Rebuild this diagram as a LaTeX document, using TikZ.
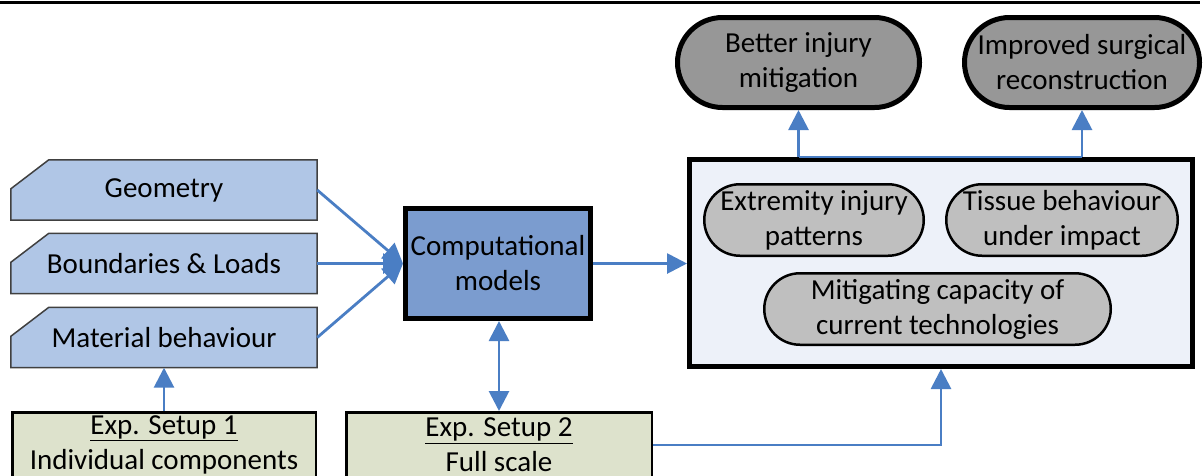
\documentclass[tikz,border=0pt]{standalone}
\usepackage{fontspec}
\setmainfont{Carlito}
\usetikzlibrary{arrows.meta,backgrounds,calc}
\definecolor{arrblue}{HTML}{4A7EC4}
\definecolor{leftfill}{HTML}{B0C6E6}
\definecolor{compfill}{HTML}{7B9CCF}
\definecolor{bigfill}{HTML}{EDF1F9}
\definecolor{innerfill}{HTML}{BFBFBF}
\definecolor{topfill}{HTML}{979797}
\definecolor{expfill}{HTML}{DDE2CC}
\definecolor{leftborder}{HTML}{404040}
\tikzset{
  inbox/.style={inner sep=0pt, minimum width=306pt, minimum height=60pt, align=center},
  chamf/.style={draw=leftborder, line width=1.5pt, fill=leftfill},
  compbox/.style={draw, line width=5pt, fill=compfill, minimum width=185pt, minimum height=110pt, align=center, inner sep=0pt},
  bigbox/.style={draw, line width=5pt, fill=bigfill, minimum width=503pt, minimum height=207pt, inner sep=0pt},
  topoval/.style={draw, line width=5pt, fill=topfill, minimum height=90pt, rounded corners=45pt, align=center, inner sep=0pt},
  inoval/.style={draw, line width=2.5pt, fill=innerfill, minimum height=71.5pt, rounded corners=35.75pt, align=center, inner sep=0pt},
  expbox/.style={draw, line width=2.5pt, fill=expfill, minimum height=65.5pt, align=center, inner sep=0pt},
  conn/.style={draw=arrblue, line width=2.8pt},
  arr/.style={conn, -{Triangle[length=20pt,width=20pt]}},
  darr/.style={conn, {Triangle[length=20pt,width=20pt]}-{Triangle[length=20pt,width=20pt]}}
}
\begin{document}
\begin{tikzpicture}[x=1pt,y=-1pt, font=\fontsize{29}{35}\selectfont]
\useasboundingbox (0,0) rectangle (1204,475);
\begin{scope}[on background layer]
\fill[white] (0,0) rectangle (1204,475);
\end{scope}
\draw[line width=3pt] (0,2) -- (1200,2);

% left inputs
\node[inbox] (geo) at (164,190) {Geometry};
\node[inbox] (bnd) at (164,263.5) {Boundaries \& Loads};
\node[inbox] (mat) at (164,337.5) {Material behaviour};
\begin{scope}[on background layer]
\foreach \n in {geo,bnd,mat}
  \draw[chamf] (\n.south west) -- ($(\n.north west)+(0,29)$) -- ($(\n.north west)+(38,0)$) -- (\n.north east) -- (\n.south east) -- cycle;
\end{scope}

% computational model
\node[compbox] (comp) at (498,263.5) {Computational\\models};

% big box and inner ovals
\node[bigbox] (big) at (941,263) {};
\node[inoval, minimum width=219.5pt] (ext) at (814,220) {Extremity injury\\patterns};
\node[inoval, minimum width=231.5pt] (tis) at (1062,220) {Tissue behaviour\\under impact};
\node[inoval, minimum width=346.5pt] (mit) at (937.5,309) {Mitigating capacity of\\current technologies};

% top outcomes
\node[topoval, minimum width=242pt] (better) at (798.5,62.5) {Better injury\\mitigation};
\node[topoval, minimum width=235pt] (impr) at (1082,62.5) {Improved surgical\\reconstruction};

% experimental setups
\node[expbox, minimum width=303.5pt] (exp1) at (164,445) {\underline{Exp. Setup 1}\\Individual components};
\node[expbox, minimum width=305.5pt] (exp2) at (499,445) {\underline{Exp. Setup 2}\\Full scale};

% connectors
\draw[arr] (geo.east) -- (comp.west);
\draw[arr] (bnd.east) -- (comp.west);
\draw[arr] (mat.east) -- (comp.west);
\draw[arr] (comp.east) -- (comp.east -| big.west);
\draw[arr] (exp1.north) -- (exp1.north |- mat.south);
\draw[darr] (exp2.north) -- (exp2.north |- comp.south);
\draw[arr] (exp2.east) -| (big.south);
\draw[conn] (better.south |- big.north) -- (impr.south |- big.north);
\draw[arr] (better.south |- big.north) -- (better.south);
\draw[arr] (impr.south |- big.north) -- (impr.south);
\end{tikzpicture}
\end{document}
